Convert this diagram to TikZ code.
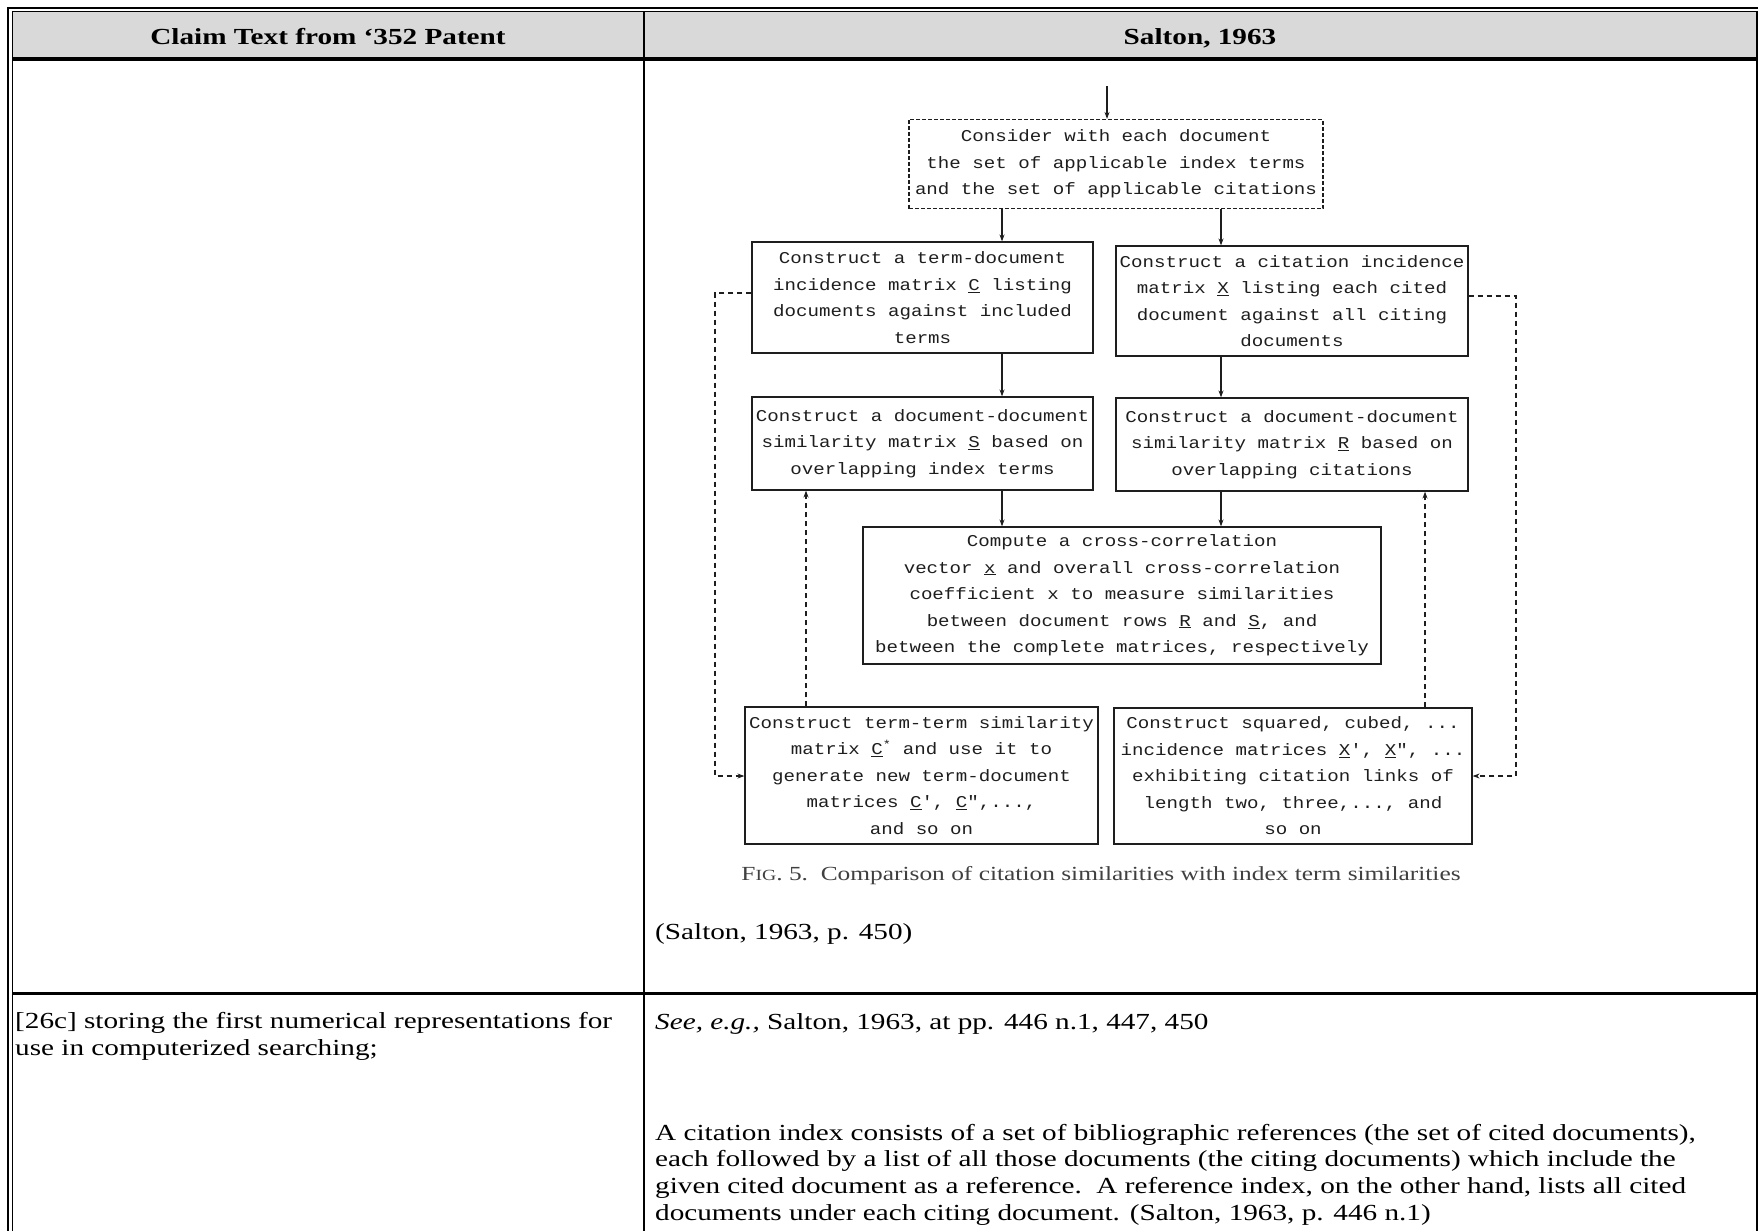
\documentclass[tikz,border=0pt]{standalone}
\usepackage{fontspec}
\setmainfont[FakeStretch=1.27]{Liberation Serif}
\setmonofont[FakeStretch=1.16]{Liberation Mono}
\usetikzlibrary{arrows.meta}
\definecolor{hdrgray}{RGB}{217,217,217}
\definecolor{ink}{RGB}{30,30,30}
\newcommand\myBody{\fontsize{23}{26.6}\selectfont}
\newcommand\myMono{\ttfamily\fontsize{16.5}{26.5}\selectfont}
\newcommand\myCap{\fontsize{20}{24}\selectfont}
\begin{document}
\begin{tikzpicture}[x=1pt,y=-1pt,
  txt/.style={inner sep=0pt, font=\myBody, anchor=base west},
  para/.style={txt, align=left},
  hdr/.style={inner sep=0pt, font=\myBody\bfseries, anchor=base},
  fbox/.style={draw=ink, line width=1.2pt, font=\myMono, align=center, inner sep=0pt, text=ink},
  arr/.style={draw=ink, line width=1.1pt, -{Stealth[length=7pt,width=5pt]}},
  darr/.style={arr, dash pattern=on 5pt off 4pt},
  rule/.style={draw=black},
]
\useasboundingbox (0,0) rectangle (1758,1231);
\fill[white] (0,0) rectangle (1758,1231);
% header fill
\fill[hdrgray] (12,11) rectangle (1757,57);
% table rules
\draw[rule, line width=2.2pt] (7,8) -- (1758,8);
\draw[rule, line width=1pt] (12,11.5) -- (1758,11.5);
\draw[rule, line width=2.2pt] (8,7) -- (8,1231);
\draw[rule, line width=1pt] (12,11) -- (12,1231);
\draw[rule, line width=1.2pt] (1757,11) -- (1757,1231);
\draw[rule, line width=4pt] (12,59) -- (1757,59);
\draw[rule, line width=2pt] (644,11) -- (644,1231);
\draw[rule, line width=3pt] (12,993.5) -- (1757,993.5);
% header text
\node[hdr] (h1) at (328,45) {Claim Text from ‘352 Patent};
\node[hdr] (h2) at (1200,45) {Salton, 1963};
% flowchart
\node[fbox, dash pattern=on 4pt off 2pt, minimum width=414pt, minimum height=89pt] (top) at (1116,164)
  {Consider with each document\\the set of applicable index terms\\and the set of applicable citations};
\node[fbox, minimum width=341pt, minimum height=111pt] (tdm) at (922.5,297.5)
  {Construct a term-document\\incidence matrix \underline{C} listing\\documents against included\\terms};
\node[fbox, minimum width=352pt, minimum height=110pt] (cim) at (1292,301)
  {Construct a citation incidence\\matrix \underline{X} listing each cited\\document against all citing\\documents};
\node[fbox, minimum width=341pt, minimum height=93pt] (dds) at (922.5,443.5)
  {Construct a document-document\\similarity matrix \underline{S} based on\\overlapping index terms};
\node[fbox, minimum width=352pt, minimum height=93pt] (ddr) at (1292,444.5)
  {Construct a document-document\\similarity matrix \underline{R} based on\\overlapping citations};
\node[fbox, minimum width=518pt, minimum height=137pt] (cc) at (1122,595.5)
  {Compute a cross-correlation\\vector \underline{x} and overall cross-correlation\\coefficient x to measure similarities\\between document rows \underline{R} and \underline{S}, and\\between the complete matrices, respectively};
\node[fbox, minimum width=353pt, minimum height=137pt] (tts) at (921.5,775.5)
  {Construct term-term similarity\\matrix \underline{C}\textsuperscript{*} and use it to\\generate new term-document\\matrices \underline{C}', \underline{C}",...,\\and so on};
\node[fbox, minimum width=358pt, minimum height=136pt] (sq) at (1293,776)
  {Construct squared, cubed, ...\\incidence matrices \underline{X}', \underline{X}", ...\\exhibiting citation links of\\length two, three,..., and\\so on};
% guide coordinates
\coordinate (in) at (1107,86);
\coordinate (xL) at (1002,0);
\coordinate (xR) at (1221,0);
\coordinate (xLd) at (715,0);
\coordinate (xRd) at (1516,0);
\coordinate (xSu) at (806,0);
\coordinate (xRu) at (1425,0);
\coordinate (yA) at (0,293);
\coordinate (yA2) at (0,296);
\coordinate (yB) at (0,776);
% solid arrows
\draw[arr] (in) -- (in |- top.north);
\draw[arr] (top.south -| xL) -- (tdm.north -| xL);
\draw[arr] (top.south -| xR) -- (cim.north -| xR);
\draw[arr] (tdm.south -| xL) -- (dds.north -| xL);
\draw[arr] (cim.south -| xR) -- (ddr.north -| xR);
\draw[arr] (dds.south -| xL) -- (cc.north -| xL);
\draw[arr] (ddr.south -| xR) -- (cc.north -| xR);
% dashed arrows
\draw[darr] (tts.north -| xSu) -- (dds.south -| xSu);
\draw[darr] (sq.north -| xRu) -- (ddr.south -| xRu);
\draw[darr] (tdm.west |- yA) -| (xLd |- yB) -- (tts.west |- yB);
\draw[darr] (cim.east |- yA2) -| (xRd |- yB) -- (sq.east |- yB);
% caption
\node[inner sep=0pt, font=\myCap, text=black!75] (cap) at (1101,876)
  {F{\fontsize{15.5}{15}\selectfont IG}. 5.\ \ Comparison of citation similarities with index term similarities};
% texts
\node[txt] (src) at (655,939) {(Salton, 1963, p. 450)};
\node[para] (claim) at (15,1055) {[26c] storing the first numerical representations for\\use in computerized searching;};
\node[txt] (see) at (655,1029) {\textit{See, e.g.,} Salton, 1963, at pp. 446 n.1, 447, 450};
\node[para] (quote) at (655,1220) {A citation index consists of a set of bibliographic references (the set of cited documents),\\each followed by a list of all those documents (the citing documents) which include the\\given cited document as a reference.\ \ A reference index, on the other hand, lists all cited\\documents under each citing document. (Salton, 1963, p. 446 n.1)};
\end{tikzpicture}
\end{document}
